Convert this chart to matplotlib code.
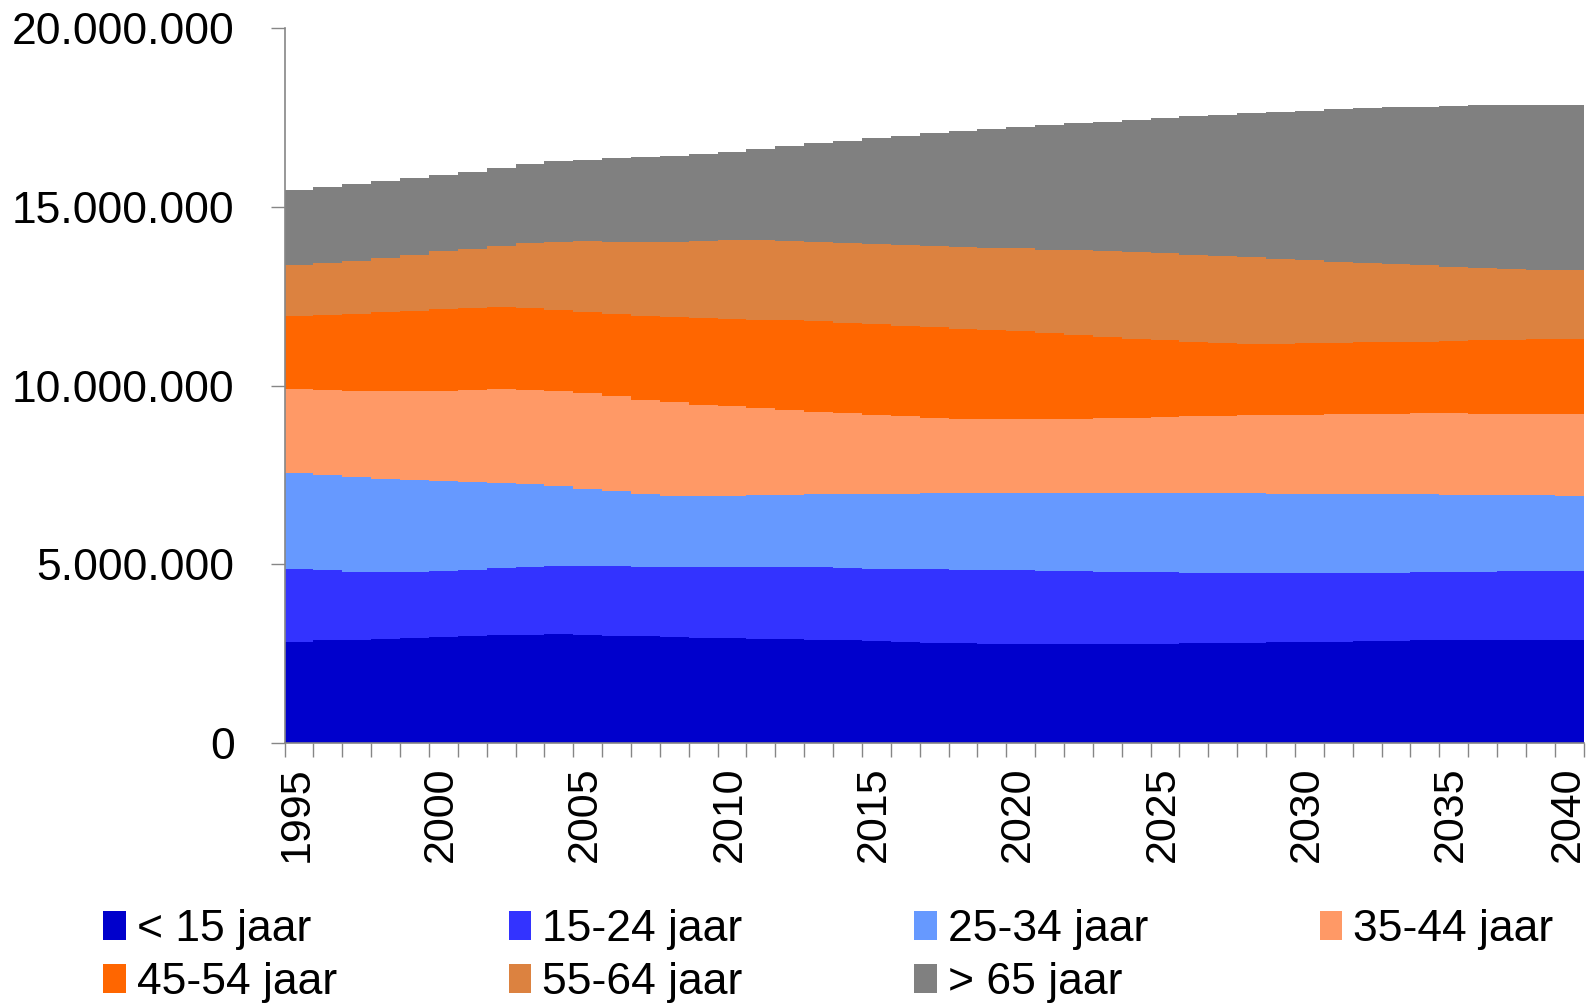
import matplotlib
matplotlib.use("Agg")
import matplotlib.pyplot as plt
import matplotlib.transforms as mtransforms
from matplotlib.ticker import FuncFormatter, MultipleLocator

plt.rcParams["font.family"] = ["Liberation Sans", "DejaVu Sans"]

# Data (x 1000 persons), one value per year 1995..2040
years = list(range(1995, 2041))
labels = ["< 15 jaar", "15-24 jaar", "25-34 jaar", "35-44 jaar",
          "45-54 jaar", "55-64 jaar", "> 65 jaar"]
colors = ["#0000CC", "#3333FF", "#6699FF", "#FF9966",
          "#FF6600", "#DC8240", "#808080"]

age_0_14 = [2840, 2870, 2895, 2920, 2945, 2970, 2995, 3015, 3035, 3040,
            3025, 3005, 2985, 2965, 2945, 2930, 2915, 2900, 2885, 2870,
            2850, 2830, 2810, 2790, 2775, 2765, 2760, 2760, 2765, 2770,
            2780, 2790, 2800, 2810, 2820, 2830, 2840, 2850, 2860, 2870,
            2880, 2885, 2885, 2880, 2875, 2870]
age_15_24 = [2040, 1980, 1905, 1860, 1835, 1840, 1855, 1885, 1905, 1920,
             1935, 1945, 1955, 1965, 1990, 2010, 2025, 2030, 2035, 2030,
             2030, 2040, 2050, 2060, 2065, 2065, 2060, 2050, 2035, 2020,
             2000, 1980, 1960, 1940, 1925, 1915, 1910, 1910, 1910, 1910,
             1910, 1915, 1925, 1935, 1945, 1950]
age_25_34 = [2670, 2650, 2650, 2620, 2580, 2510, 2450, 2380, 2300, 2230,
             2160, 2100, 2040, 1990, 1975, 1980, 2000, 2020, 2040, 2070,
             2095, 2110, 2130, 2145, 2160, 2170, 2180, 2190, 2200, 2210,
             2220, 2225, 2230, 2235, 2235, 2235, 2225, 2210, 2195, 2180,
             2165, 2150, 2130, 2115, 2100, 2090]
age_35_44 = [2350, 2380, 2410, 2450, 2490, 2540, 2580, 2620, 2650, 2660,
             2670, 2650, 2630, 2610, 2560, 2500, 2430, 2370, 2310, 2260,
             2215, 2170, 2120, 2085, 2060, 2055, 2060, 2075, 2090, 2110,
             2130, 2150, 2170, 2185, 2200, 2210, 2225, 2240, 2255, 2265,
             2270, 2270, 2275, 2275, 2275, 2280]
age_45_54 = [2040, 2090, 2150, 2210, 2250, 2280, 2300, 2300, 2290, 2280,
             2270, 2300, 2340, 2390, 2420, 2450, 2480, 2510, 2530, 2530,
             2530, 2530, 2530, 2520, 2500, 2465, 2410, 2345, 2280, 2210,
             2140, 2085, 2040, 2010, 2000, 2000, 2000, 2000, 2000, 2010,
             2025, 2045, 2065, 2090, 2115, 2130]
age_55_64 = [1450, 1470, 1490, 1520, 1570, 1620, 1650, 1710, 1800, 1890,
             1980, 2030, 2070, 2110, 2160, 2200, 2240, 2230, 2230, 2240,
             2250, 2270, 2280, 2290, 2300, 2320, 2340, 2370, 2390, 2420,
             2440, 2440, 2430, 2410, 2370, 2320, 2270, 2230, 2180, 2135,
             2080, 2035, 1990, 1945, 1920, 1900]
age_65_plus = [2100, 2120, 2140, 2140, 2130, 2130, 2160, 2190, 2220, 2260,
               2290, 2330, 2370, 2400, 2430, 2480, 2530, 2640, 2750, 2860,
               2970, 3050, 3140, 3230, 3320, 3400, 3480, 3550, 3630, 3700,
               3780, 3870, 3950, 4030, 4110, 4190, 4260, 4320, 4390, 4440,
               4500, 4545, 4585, 4620, 4635, 4650]

series = [age_0_14, age_15_24, age_25_34, age_35_44,
          age_45_54, age_55_64, age_65_plus]
series = [[v * 1000 for v in s] for s in series]

fig = plt.figure(figsize=(15.9, 10.06), dpi=100)
ax = fig.add_axes([0.179, 0.2614, 0.817, 0.7104])

polys = ax.stackplot(years, *series, colors=colors, step="post",
                     labels=labels, linewidth=0)

ax.set_xlim(1995, 2040)
ax.set_ylim(0, 20000000)

ax.yaxis.set_major_locator(MultipleLocator(5000000))
ax.yaxis.set_major_formatter(FuncFormatter(lambda v, p: f"{int(v):,}".replace(",", ".")))
ax.xaxis.set_major_locator(MultipleLocator(5))
ax.xaxis.set_minor_locator(MultipleLocator(1))

for side in ["top", "right"]:
    ax.spines[side].set_visible(False)
for side in ["left", "bottom"]:
    ax.spines[side].set_color("#868686")
    ax.spines[side].set_linewidth(1.2)

ax.tick_params(axis="y", which="major", length=10, width=1, color="#868686",
               labelsize=32, pad=26)
ax.tick_params(axis="x", which="both", length=10, width=1, color="#868686",
               labelsize=31, pad=7)
ax.tick_params(axis="x", which="major", labelrotation=90)

# labels sit just right of their tick, the last one is pulled inside
fig.canvas.draw()
for tick in ax.xaxis.get_major_ticks():
    shift = -16 if tick.get_loc() >= years[-1] else 12
    offset = mtransforms.ScaledTranslation(shift / 100, 0, fig.dpi_scale_trans)
    tick.label1.set_transform(tick.label1.get_transform() + offset)

order = [0, 4, 1, 5, 2, 6, 3]
handles = [polys[i] for i in order]
leg_labels = [labels[i] for i in order]
fig.legend(handles, leg_labels, loc="upper left", ncol=4, mode="expand",
           bbox_to_anchor=(0.065, 0.096, 0.912, 0.0), frameon=False,
           fontsize=32, handlelength=0.5, handleheight=0.63,
           handletextpad=0.25, labelspacing=0.27, borderpad=0,
           borderaxespad=0, columnspacing=0.5)

fig.savefig("out.png", dpi=100)
